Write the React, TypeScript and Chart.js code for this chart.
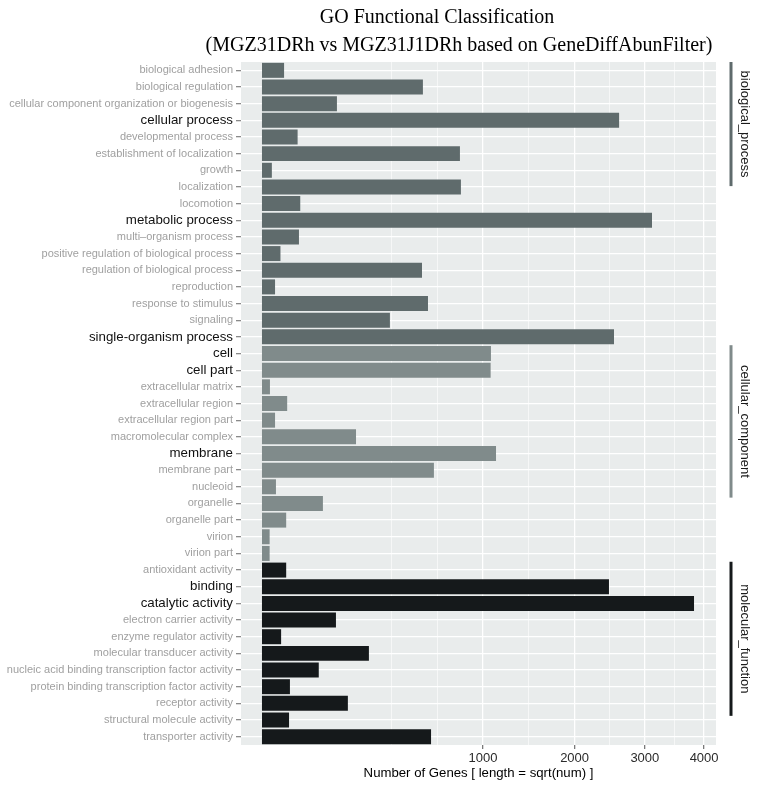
import React, { useEffect, useRef } from "react";
import { Chart, registerables } from "chart.js";

Chart.register(...registerables);

// ---------------- data ----------------
const categories = [
  "biological adhesion",
  "biological regulation",
  "cellular component organization or biogenesis",
  "cellular process",
  "developmental process",
  "establishment of localization",
  "growth",
  "localization",
  "locomotion",
  "metabolic process",
  "multi\u2013organism process",
  "positive regulation of biological process",
  "regulation of biological process",
  "reproduction",
  "response to stimulus",
  "signaling",
  "single-organism process",
  "cell",
  "cell part",
  "extracellular matrix",
  "extracellular region",
  "extracellular region part",
  "macromolecular complex",
  "membrane",
  "membrane part",
  "nucleoid",
  "organelle",
  "organelle part",
  "virion",
  "virion part",
  "antioxidant activity",
  "binding",
  "catalytic activity",
  "electron carrier activity",
  "enzyme regulator activity",
  "molecular transducer activity",
  "nucleic acid binding transcription factor activity",
  "protein binding transcription factor activity",
  "receptor activity",
  "structural molecule activity",
  "transporter activity",
];

const geneCounts = [
  10, 530, 115, 2610, 26, 802, 2, 810, 30, 3113, 28, 7, 524, 3.5, 564, 335, 2536,
  1073, 1070, 1.3, 13, 3.5, 181, 1121, 605, 4, 76, 12, 1.2, 1.2,
  12, 2464, 3820, 112, 7.5, 234, 66, 16, 151, 15, 585,
];

const groupOf = [
  0, 0, 0, 0, 0, 0, 0, 0, 0, 0, 0, 0, 0, 0, 0, 0, 0,
  1, 1, 1, 1, 1, 1, 1, 1, 1, 1, 1, 1, 1,
  2, 2, 2, 2, 2, 2, 2, 2, 2, 2, 2,
];

const groupNames = ["biological_process", "cellular_component", "molecular_function"];
const groupColors = ["#5f6b6c", "#808b8b", "#15191b"];
// strip bar length, in category bands
const groupStripSpan = [7.45, 9.15, 9.25];

const majorTicks = [1000, 2000, 3000, 4000];
const minorTicks = [342, 628, 1457, 2475, 3482];
const highlightThreshold = 1000;

const titleLines = [
  "GO Functional Classification",
  "(MGZ31DRh vs MGZ31J1DRh based on GeneDiffAbunFilter)",
];
const xAxisTitle = "Number of Genes [ length = sqrt(num) ]";

// ---------------- helpers ----------------
const SANS = "'Liberation Sans', Arial, Helvetica, sans-serif";
const SERIF = "'Liberation Serif', 'Times New Roman', serif";
const PANEL_BG = "#e9ecec";
const TITLE_CENTERS_X = [437, 459];
const TITLE_Y = [18, 46];

const sqrtMajors = majorTicks.map(Math.sqrt);
const isMajor = (v: number) => sqrtMajors.some((m) => Math.abs(m - v) < 1e-6);

const panelBg = {
  id: "panelBg",
  beforeDraw(chart: any) {
    const { ctx, chartArea: a } = chart;
    ctx.save();
    ctx.fillStyle = PANEL_BG;
    ctx.fillRect(a.left, a.top, a.right - a.left, a.bottom - a.top);
    ctx.restore();
  },
};

const titlePlugin = {
  id: "twoLineTitle",
  afterDraw(chart: any) {
    const { ctx } = chart;
    ctx.save();
    ctx.fillStyle = "#000";
    ctx.font = `20px ${SERIF}`;
    ctx.textAlign = "center";
    ctx.textBaseline = "middle";
    titleLines.forEach((t, i) => ctx.fillText(t, TITLE_CENTERS_X[i], TITLE_Y[i]));
    ctx.restore();
  },
};

const stripPlugin = {
  id: "groupStrips",
  afterDraw(chart: any) {
    const { ctx, chartArea: a } = chart;
    const y = chart.scales.y;
    const band = y.getPixelForValue(1) - y.getPixelForValue(0);
    ctx.save();
    groupNames.forEach((name, g) => {
      const first = groupOf.indexOf(g);
      const top = y.getPixelForValue(first) - band / 2;
      const bottom = top + groupStripSpan[g] * band;
      ctx.strokeStyle = groupColors[g];
      ctx.lineWidth = 3;
      ctx.beginPath();
      ctx.moveTo(a.right + 15, top);
      ctx.lineTo(a.right + 15, bottom);
      ctx.stroke();
      ctx.save();
      ctx.translate(a.right + 29, (top + bottom) / 2);
      ctx.rotate(Math.PI / 2);
      ctx.fillStyle = "#1a1a1a";
      ctx.font = `13px ${SANS}`;
      ctx.textAlign = "center";
      ctx.textBaseline = "middle";
      ctx.fillText(name, 0, 0);
      ctx.restore();
    });
    ctx.restore();
  },
};

export default function App() {
  const ref = useRef<HTMLCanvasElement | null>(null);

  useEffect(() => {
    if (!ref.current) return;
    const chart = new Chart(ref.current, {
      type: "bar",
      data: {
        labels: categories,
        datasets: [
          {
            data: geneCounts.map((v) => Math.sqrt(v)),
            backgroundColor: groupOf.map((g) => groupColors[g]),
            borderWidth: 0,
            barPercentage: 0.9,
            categoryPercentage: 1,
          },
        ],
      },
      plugins: [panelBg, titlePlugin, stripPlugin],
      options: {
        indexAxis: "y",
        animation: false,
        responsive: true,
        maintainAspectRatio: false,
        layout: { padding: { top: 62, right: 44, left: 0, bottom: 0 } },
        plugins: {
          legend: { display: false },
          tooltip: { enabled: false },
          title: { display: false },
        },
        scales: {
          x: {
            type: "linear",
            min: -3.0,
            max: 64.95,
            afterFit: (s: any) => {
              s.height = 42;
            },
            afterBuildTicks: (s: any) => {
              const vals = [...minorTicks.map(Math.sqrt), ...sqrtMajors].sort((p, q) => p - q);
              s.ticks = vals.map((v) => ({ value: v }));
            },
            border: { display: false },
            grid: {
              color: "#ffffff",
              lineWidth: (c: any) => (c.tick && isMajor(c.tick.value) ? 1.3 : 0.6),
              tickColor: (c: any) => (c.tick && isMajor(c.tick.value) ? "#7a7a7a" : "rgba(0,0,0,0)"),
              tickLength: 4,
              drawTicks: true,
            },
            ticks: {
              autoSkip: false,
              maxRotation: 0,
              padding: 2,
              color: "#2a2a2a",
              font: { family: SANS, size: 13 },
              callback: (v: any) => (isMajor(Number(v)) ? String(Math.round(Number(v) * Number(v))) : ""),
            },
            title: {
              display: true,
              text: xAxisTitle,
              color: "#000000",
              font: { family: SANS, size: 13.2 },
              padding: { top: 0, bottom: 6 },
            },
          },
          y: {
            type: "category",
            afterFit: (s: any) => {
              s.width = 241;
            },
            border: { display: false },
            grid: {
              offset: false,
              color: "#ffffff",
              lineWidth: 1.3,
              tickColor: "#8a8a8a",
              tickLength: 5,
            },
            ticks: {
              autoSkip: false,
              padding: 3,
              color: (c: any) => (geneCounts[c.index] > highlightThreshold ? "#111111" : "#a0a0a0"),
              font: (c: any) =>
                geneCounts[c.index] > highlightThreshold
                  ? { family: SANS, size: 13.3 }
                  : { family: SANS, size: 11 },
            },
          },
        },
      },
    } as any);
    return () => chart.destroy();
  }, []);

  return (
    <div style={{ position: "fixed", left: 0, top: 0, width: 760, height: 787, background: "#fff" }}>
      <canvas ref={ref} />
    </div>
  );
}
